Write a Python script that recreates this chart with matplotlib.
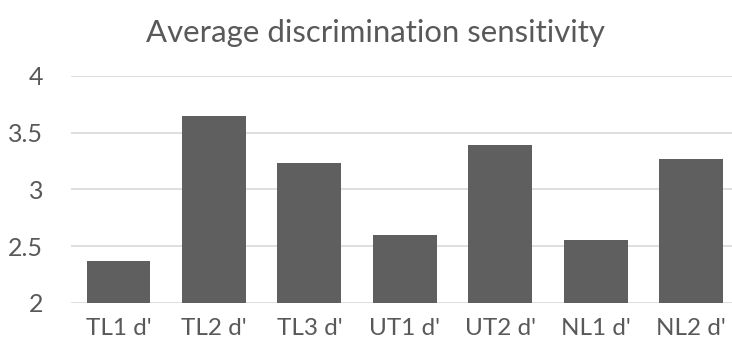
import matplotlib as mpl
mpl.use('Agg')
import matplotlib.pyplot as plt

# mean d' per condition
conditions = ["TL1 d'", "TL2 d'", "TL3 d'", "UT1 d'", "UT2 d'", "NL1 d'", "NL2 d'"]
dprime = [2.37, 3.65, 3.23, 2.60, 3.39, 2.55, 3.27]
yticks = [2, 2.5, 3, 3.5, 4]
ytick_labels = ['2', '2.5', '3', '3.5', '4']

plt.rcParams['font.family'] = ['Lato', 'DejaVu Sans']
txt = '#595959'

fig = plt.figure(figsize=(7.32, 3.51), dpi=100)
ax = fig.add_axes([0.0967, 0.1376, 0.9033, 0.6459])

x = list(range(len(conditions)))
ax.bar(x, dprime, width=0.67, color='#5f5f5f', zorder=3)

ax.set_xlim(-0.5, 6.43)
ax.set_ylim(2, 4)
ax.set_yticks(yticks)
ax.set_yticklabels(ytick_labels)
ax.set_xticks(x)
ax.set_xticklabels(conditions)
ax.grid(axis='y', color='#d9d9d9', linewidth=1.2, zorder=0)
ax.tick_params(length=0, labelcolor=txt)
ax.tick_params(axis='y', pad=20, labelsize=18)
ax.tick_params(axis='x', pad=11, labelsize=17.5)
for s in ax.spines.values():
    s.set_visible(False)

fig.text(0.513, 0.905, 'Average discrimination sensitivity', ha='center', va='center',
         fontsize=22.4, color=txt)

plt.savefig('out.png')
